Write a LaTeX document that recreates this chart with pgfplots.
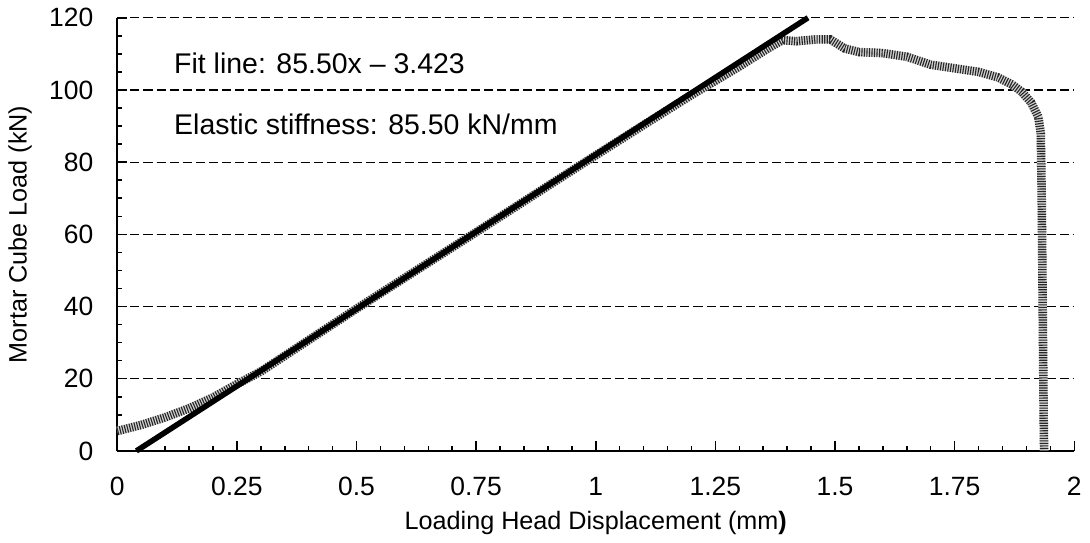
\documentclass[border=0pt]{standalone}
\usepackage{fontspec}
\setmainfont{Liberation Sans}
\usepackage{pgfplots}
\pgfplotsset{compat=1.18}
\begin{document}
\begin{tikzpicture}
\begin{axis}[
  scale only axis,
  width=380pt, height=172pt,
  xmin=0, xmax=2, ymin=0, ymax=120,
  axis x line=bottom, axis y line=left,
  axis line style={-, line width=0.8pt},
  xtick={0,0.25,0.5,0.75,1,1.25,1.5,1.75,2},
  xticklabels={0,0.25,0.5,0.75,1,1.25,1.5,1.75,2},
  ytick={0,20,40,60,80,100,120},
  minor x tick num=4,
  minor y tick num=3,
  tick align=inside,
  major tick length=4pt, minor tick length=2pt,
  tick style={black, line width=0.6pt},
  ymajorgrids,
  major grid style={black, line width=0.5pt, dash pattern=on 3.6pt off 1.6pt},
  /pgf/number format/assume math mode=true,
  tick label style={font=\fontsize{10.5}{12}\selectfont},
  yticklabel style={xshift=-6pt},
  xticklabel style={yshift=-7pt},
  label style={font=\fontsize{10}{12}\selectfont},
  xlabel={Loading Head Displacement (mm\textbf{)}},
  ylabel={Mortar Cube Load (kN)},
  xlabel style={yshift=1pt},
  clip=false,
]
% test curve (hatched)
\addplot[gray!35, line width=3.4pt, line join=round] coordinates {
(0,5.5)(0.05,7.2)(0.1,9.3)(0.15,11.8)(0.2,14.8)(0.25,18.5)(0.3,22.0)(0.4,30.7)(0.5,39.4)(0.6,47.9)(0.75,60.6)(0.9,73.4)(1.0,81.9)(1.1,90.3)(1.2,98.6)(1.3,106.5)(1.36,111.5)(1.39,113.8)(1.42,113.5)(1.46,114.0)(1.49,114.0)(1.52,111.5)(1.55,110.5)(1.6,110.2)(1.65,109.2)(1.7,107.0)(1.75,106.0)(1.8,105.0)(1.84,103.5)(1.87,101.5)(1.89,99.5)(1.91,96.5)(1.925,92.5)(1.93,88)(1.932,70)(1.934,40)(1.936,10)(1.937,0)
};
\addplot[black!85, line width=3.4pt, dash pattern=on 0.45pt off 0.55pt] coordinates {
(0,5.5)(0.05,7.2)(0.1,9.3)(0.15,11.8)(0.2,14.8)(0.25,18.5)(0.3,22.0)(0.4,30.7)(0.5,39.4)(0.6,47.9)(0.75,60.6)(0.9,73.4)(1.0,81.9)(1.1,90.3)(1.2,98.6)(1.3,106.5)(1.36,111.5)(1.39,113.8)(1.42,113.5)(1.46,114.0)(1.49,114.0)(1.52,111.5)(1.55,110.5)(1.6,110.2)(1.65,109.2)(1.7,107.0)(1.75,106.0)(1.8,105.0)(1.84,103.5)(1.87,101.5)(1.89,99.5)(1.91,96.5)(1.925,92.5)(1.93,88)(1.932,70)(1.934,40)(1.936,10)(1.937,0)
};
% fit line
\addplot[black, line width=2.2pt] coordinates {(0.04,0)(1.4435,120)};
\node[anchor=west, inner sep=0pt, font=\fontsize{11.3}{13}\selectfont] at (axis cs:0.118,107.5) {Fit line: 85.50x -- 3.423};
\node[anchor=west, inner sep=0pt, font=\fontsize{11.3}{13}\selectfont] at (axis cs:0.118,90.5) {Elastic stiffness: 85.50 kN/mm};
\end{axis}
\end{tikzpicture}
\end{document}
